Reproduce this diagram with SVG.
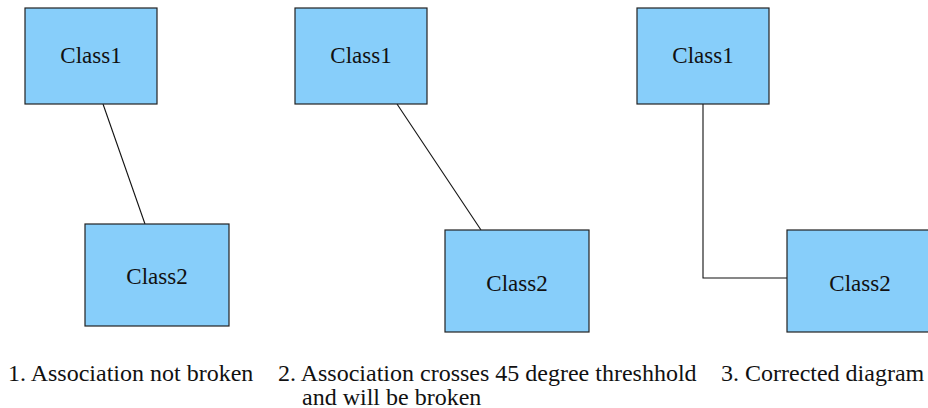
<svg xmlns="http://www.w3.org/2000/svg" width="928" height="408" viewBox="0 0 928 408">
<style>
.box{fill:#87cefa;stroke:#222;stroke-width:1.2}
.lbl{font-family:'Liberation Serif','Tinos','Times New Roman','DejaVu Serif',serif;font-size:23px;fill:#111;text-anchor:middle}
.cap{font-family:'Liberation Serif','Tinos','Times New Roman','DejaVu Serif',serif;font-size:24px;fill:#111}
.conn{fill:none;stroke:#111;stroke-width:1.1}
</style>
<rect width="928" height="408" fill="#fff"/>
<g id="connectors">
<line class="conn" x1="103" y1="104" x2="145" y2="224"/>
<line class="conn" x1="397" y1="104" x2="481" y2="230"/>
<polyline class="conn" points="703,104 703,278 787,278"/>
</g>
<g id="p1-class1"><rect class="box" x="25" y="8" width="132" height="96"/><text class="lbl" x="91" y="63">Class1</text></g>
<g id="p1-class2"><rect class="box" x="85" y="224" width="144" height="102"/><text class="lbl" x="157" y="284">Class2</text></g>
<g id="p2-class1"><rect class="box" x="295" y="8" width="132" height="96"/><text class="lbl" x="361" y="63">Class1</text></g>
<g id="p2-class2"><rect class="box" x="445" y="230" width="144" height="102"/><text class="lbl" x="517" y="291">Class2</text></g>
<g id="p3-class1"><rect class="box" x="637" y="8" width="132" height="96"/><text class="lbl" x="703" y="63">Class1</text></g>
<g id="p3-class2"><rect class="box" x="787" y="230" width="144" height="102"/><text class="lbl" x="860" y="291">Class2</text></g>
<g id="captions">
<text class="cap" x="8" y="381">1. Association not broken</text>
<text class="cap" x="278" y="381">2. Association crosses 45 degree threshhold</text>
<text class="cap" x="302" y="405">and will be broken</text>
<text class="cap" x="721" y="381">3. Corrected diagram</text>
</g>
</svg>
